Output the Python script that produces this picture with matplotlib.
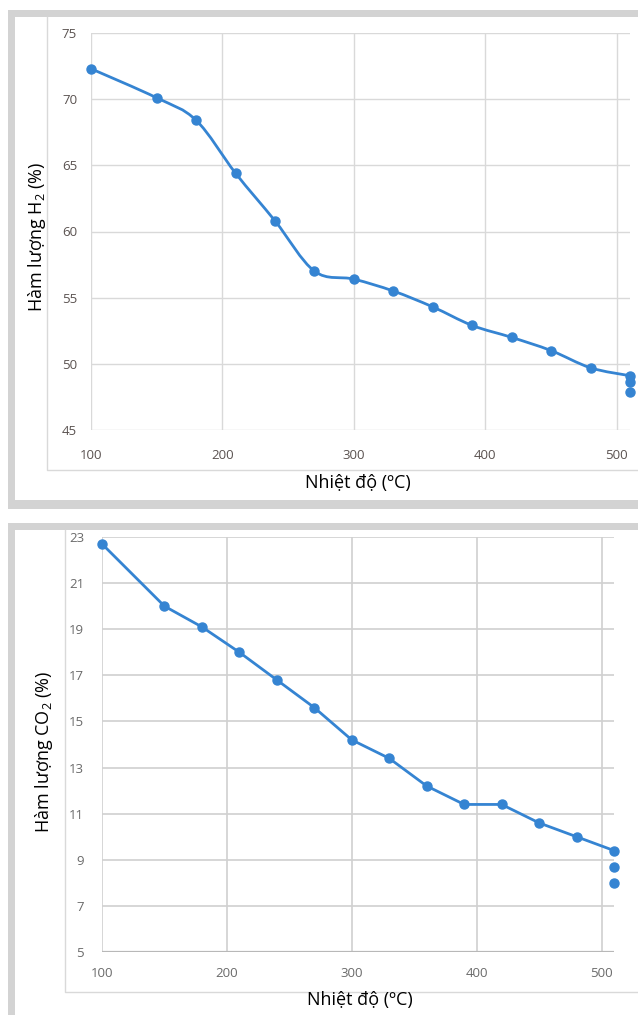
import numpy as np
import matplotlib.pyplot as plt
from matplotlib.patches import Rectangle, PathPatch
from matplotlib.path import Path
from matplotlib.lines import Line2D

plt.rcParams['font.family'] = ['Open Sans', 'DejaVu Sans']
plt.rcParams['mathtext.fontset'] = 'custom'
plt.rcParams['mathtext.rm'] = 'Open Sans'

# Dữ liệu
nhiet_do = [100, 150, 180, 210, 240, 270, 300, 330, 360, 390, 420, 450, 480, 510]
h2 = [72.3, 70.1, 68.4, 64.4, 60.8, 57.0, 56.4, 55.5, 54.3, 52.9, 52.0, 51.0, 49.7, 49.1]
co2 = [22.7, 20.0, 19.1, 18.0, 16.8, 15.6, 14.2, 13.4, 12.2, 11.4, 11.4, 10.6, 10.0, 9.4]
# điểm rời ở 510 °C
h2_them = [48.6, 47.9]
co2_them = [8.7, 8.0]

W, H = 638, 1015
mau = '#3584d2'
luoi = '#d9d9d9'

fig = plt.figure(figsize=(W / 100, H / 100), dpi=100)


def hop(x0, y0, x1, y1, **kw):
    # hình chữ nhật theo pixel (gốc ở trên bên trái)
    fig.add_artist(Rectangle((x0 / W, 1 - y1 / H), (x1 - x0) / W, (y1 - y0) / H,
                             transform=fig.transFigure, **kw))


def duong(xs, ys, **kw):
    fig.add_artist(Line2D([x / W for x in xs], [1 - y / H for y in ys],
                          transform=fig.transFigure, **kw))


def truc(x0, y0, x1, y1):
    return fig.add_axes([x0 / W, 1 - y1 / H, (x1 - x0) / W, (y1 - y0) / H])


# khung xám
hop(8, 10, 660, 509, facecolor='#d3d3d3', edgecolor='none', zorder=0)
hop(15, 17, 660, 500, facecolor='white', edgecolor='none', zorder=0)
hop(8, 523, 660, 1030, facecolor='#d3d3d3', edgecolor='none', zorder=0)
hop(15, 530, 660, 1030, facecolor='white', edgecolor='none', zorder=0)
duong([47, 47, 638], [17, 470, 470], color=luoi, lw=1, zorder=1)
duong([65, 65, 638], [530, 992, 992], color=luoi, lw=1, zorder=1)


def duong_muot(x, y):
    pts = np.column_stack([x, y])
    n = len(pts)
    verts = [pts[0]]
    codes = [Path.MOVETO]
    for i in range(n - 1):
        p0 = pts[max(i - 1, 0)]
        p1 = pts[i]
        p2 = pts[i + 1]
        p3 = pts[min(i + 2, n - 1)]
        verts += [p1 + (p2 - p0) / 6, p2 - (p3 - p1) / 6, p2]
        codes += [Path.CURVE4] * 3
    return Path(verts, codes)


# Biểu đồ H2
ax1 = truc(91, 33, 630, 430)
ax1.set_xlim(100, 510)
ax1.set_ylim(45, 75)
ax1.set_xticks([100, 200, 300, 400, 500])
ax1.set_yticks(range(45, 76, 5))
ax1.grid(True, color=luoi, lw=1)
ax1.set_axisbelow(True)
for s in ax1.spines.values():
    s.set_visible(False)
ax1.tick_params(length=0, labelsize=9.5, labelcolor='#5a5250', pad=14)
ax1.tick_params(axis='y', pad=10)
ax1.add_patch(PathPatch(duong_muot(nhiet_do, h2), facecolor='none', edgecolor=mau,
                        lw=2, clip_on=False))
ax1.plot(nhiet_do, h2, 'o', color=mau, ms=6.5, clip_on=False)
ax1.plot([510] * len(h2_them), h2_them, 'o', color=mau, ms=6.5, clip_on=False)

fig.text(37 / W, 1 - 237 / H, 'Hàm lượng H$_{\\mathrm{2}}$ (%)', rotation=90,
         ha='center', va='center', fontsize=13, color='black')
fig.text(358 / W, 1 - 483 / H, 'Nhiệt độ (ºC)', ha='center', va='center',
         fontsize=13, color='black')

# Biểu đồ CO2
ax2 = truc(102, 537, 614, 952)
ax2.set_xlim(100, 510)
ax2.set_ylim(5, 23)
ax2.set_xticks([100, 200, 300, 400, 500])
ax2.set_yticks(range(5, 24, 2))
ax2.grid(True, color='#d0d0d0', lw=1.2)
ax2.set_axisbelow(True)
for s in ax2.spines.values():
    s.set_visible(False)
ax2.axhline(5, color='#b8b8b8', lw=1.6, zorder=1)
ax2.tick_params(length=0, labelsize=9.5, labelcolor='#6a6a6a', pad=11)
ax2.tick_params(axis='y', pad=13)
ax2.plot(nhiet_do, co2, '-o', color=mau, lw=2, ms=6.5, clip_on=False)
ax2.plot([510] * len(co2_them), co2_them, 'o', color=mau, ms=6.5, clip_on=False)

fig.text(44 / W, 1 - 752 / H, 'Hàm lượng CO$_{\\mathrm{2}}$ (%)', rotation=90,
         ha='center', va='center', fontsize=13, color='black')
fig.text(360 / W, 1 - 1000 / H, 'Nhiệt độ (ºC)', ha='center', va='center',
         fontsize=13, color='black')

fig.savefig('out.png', dpi=100, facecolor='white')
